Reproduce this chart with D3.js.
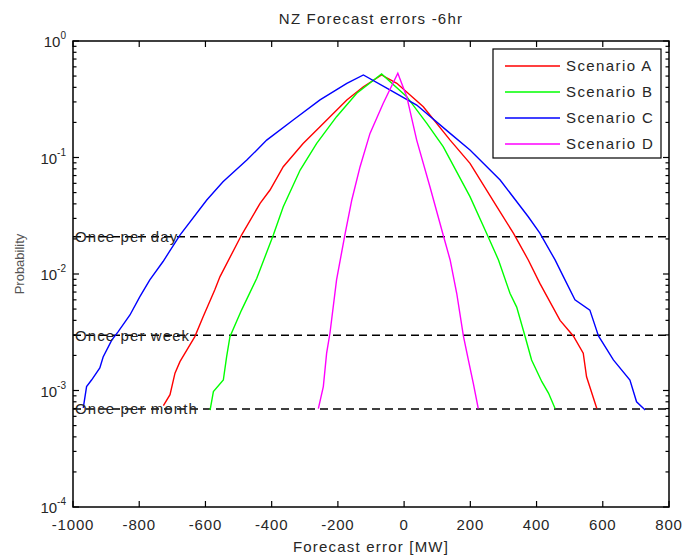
<!DOCTYPE html>
<html>
<head>
<meta charset="utf-8">
<script src="https://cdn.jsdelivr.net/npm/d3@7"></script>
<style>
  body { margin: 0; background: #fff; }
  svg { font-family: "Liberation Sans", Arial, sans-serif; }
</style>
</head>
<body>
<svg id="chart" width="682" height="558"></svg>
<script>
// forecast error [MW], probability
const scenarioA = [[-727,7.4e-4],[-707,9.2e-4],[-692,1.41e-3],[-677,1.77e-3],[-632,2.9e-3],[-607,4.3e-3],
  [-572,7.3e-3],[-556,9.5e-3],[-491,0.0216],[-435,0.0404],[-405,0.0526],[-365,0.0834],[-305,0.132],
  [-254,0.184],[-173,0.312],[-123,0.405],[-68,0.511],[-22,0.433],[58,0.273],[139,0.141],[199,0.089],
  [280,0.0378],[330,0.0224],[375,0.0132],[410,8.3e-3],[471,4.0e-3],[511,2.94e-3],[541,2.09e-3],
  [551,1.31e-3],[582,7.0e-4]];
const scenarioB = [[-586,6.8e-4],[-576,9.8e-4],[-546,1.23e-3],[-536,1.95e-3],[-526,2.9e-3],[-491,4.9e-3],
  [-445,9.2e-3],[-395,0.0216],[-365,0.0378],[-314,0.0781],[-264,0.132],[-204,0.224],[-143,0.356],
  [-68,0.521],[8,0.333],[68,0.197],[118,0.124],[199,0.0461],[249,0.0224],[285,0.0132],[320,6.8e-3],
  [340,5.2e-3],[365,2.94e-3],[385,1.83e-3],[416,1.19e-3],[436,9.5e-4],[456,7.0e-4]];
const scenarioC = [[-969,7.1e-4],[-959,1.08e-3],[-944,1.23e-3],[-919,1.56e-3],[-909,1.94e-3],[-883,2.71e-3],
  [-864,3.19e-3],[-828,4.45e-3],[-798,6.4e-3],[-768,8.9e-3],[-728,0.0128],[-677,0.0216],[-596,0.0432],
  [-547,0.062],[-475,0.095],[-415,0.141],[-335,0.21],[-254,0.312],[-173,0.433],[-123,0.511],[-43,0.38],
  [38,0.282],[139,0.161],[199,0.116],[290,0.0641],[375,0.031],[410,0.0224],[456,0.0132],[481,9.5e-3],
  [516,6.0e-3],[561,4.9e-3],[587,2.94e-3],[632,1.83e-3],[682,1.23e-3],[702,8.0e-4],[728,6.8e-4]];
const scenarioD = [[-259,7.0e-4],[-244,1.08e-3],[-234,2.09e-3],[-224,3.1e-3],[-204,8.9e-3],[-179,0.0216],
  [-158,0.0432],[-133,0.0834],[-103,0.161],[-63,0.292],[-19,0.528],[8,0.333],[38,0.141],[78,0.0561],
  [118,0.0216],[139,0.0132],[159,6.8e-3],[179,2.94e-3],[194,1.83e-3],[209,1.15e-3],[224,7.0e-4]];

const seriesNames = ["Scenario A", "Scenario B", "Scenario C", "Scenario D"];
const seriesColors = ["#ff0000", "#00ff00", "#0000ff", "#ff00ff"];
const seriesData = [scenarioA, scenarioB, scenarioC, scenarioD];

// half-hourly intervals: once per day / week / month
const refNames = ["Once per day", "Once per week", "Once per month"];
const refValues = [1 / 48, 1 / 336, 1 / 1440];

const xTicks = [-1000, -800, -600, -400, -200, 0, 200, 400, 600, 800];
const yExps = [0, -1, -2, -3, -4];

const margin = {top: 41, right: 13, bottom: 51, left: 73},
width = 682 - margin.left - margin.right,
height = 558 - margin.top - margin.bottom;

const textColor = "#262626";

const svg = d3.select("#chart");
const g = svg.append("g").attr("transform", `translate(${margin.left}, ${margin.top})`);

const x = d3.scaleLinear().domain([-1000, 800]).range([0, width]);
const y = d3.scaleLog().domain([1e-4, 1]).range([height, 0]);

// reference lines
refValues.forEach((v, i) => {
    g.append("line")
        .attr("x1", 0).attr("x2", width)
        .attr("y1", y(v)).attr("y2", y(v))
        .attr("stroke", "#000").attr("stroke-width", 1.5)
        .attr("stroke-dasharray", "8,5");
});

// curves
const line = d3.line().x(d => x(d[0])).y(d => y(d[1]));
seriesData.forEach((data, i) => {
    g.append("path")
        .datum(data)
        .attr("d", line)
        .attr("fill", "none")
        .attr("stroke", seriesColors[i])
        .attr("stroke-width", 1.4);
});

// reference labels on top of lines
refValues.forEach((v, i) => {
    g.append("text")
        .attr("x", 2).attr("y", y(v))
        .attr("dy", "0.35em")
        .attr("font-size", 15).attr("letter-spacing", 1.1)
        .attr("fill", textColor)
        .text(refNames[i]);
});

// axes box
g.append("rect")
    .attr("width", width).attr("height", height)
    .attr("fill", "none").attr("stroke", "#000").attr("stroke-width", 1.5);

// x ticks (inward, top and bottom)
const axisG = g.append("g").attr("stroke", "#000").attr("stroke-width", 1.2);
xTicks.forEach(t => {
    axisG.append("line").attr("x1", x(t)).attr("x2", x(t)).attr("y1", height).attr("y2", height - 6);
    axisG.append("line").attr("x1", x(t)).attr("x2", x(t)).attr("y1", 0).attr("y2", 6);
});
g.append("g").selectAll("text")
    .data(xTicks).join("text")
    .attr("x", d => x(d)).attr("y", height + 23)
    .attr("text-anchor", "middle")
    .attr("font-size", 15).attr("letter-spacing", 0.8).attr("fill", textColor)
    .text(d => d);

// y ticks: major and minor on left and right
y.ticks().forEach(t => {
    const isMajor = Math.abs(Math.log10(t) - Math.round(Math.log10(t))) < 1e-9;
    const len = isMajor ? 6 : 3.5;
    axisG.append("line").attr("x1", 0).attr("x2", len).attr("y1", y(t)).attr("y2", y(t));
    axisG.append("line").attr("x1", width).attr("x2", width - len).attr("y1", y(t)).attr("y2", y(t));
});
const yLab = g.append("g").selectAll("text")
    .data(yExps).join("text")
    .attr("x", -7).attr("y", d => y(Math.pow(10, d)) + 6)
    .attr("text-anchor", "end")
    .attr("font-size", 15).attr("fill", textColor);
yLab.append("tspan").text("10");
yLab.append("tspan").attr("dy", -8).attr("font-size", 10).text(d => d);

// title and axis labels
svg.append("text")
    .attr("x", margin.left + width / 2).attr("y", 24)
    .attr("text-anchor", "middle").attr("font-size", 15).attr("letter-spacing", 1.2).attr("fill", textColor)
    .text("NZ Forecast errors -6hr");
svg.append("text")
    .attr("x", margin.left + width / 2).attr("y", 552)
    .attr("text-anchor", "middle").attr("font-size", 15).attr("letter-spacing", 1.2).attr("fill", textColor)
    .text("Forecast error [MW]");
svg.append("text")
    .attr("transform", `translate(24, 264) rotate(-90)`)
    .attr("text-anchor", "middle").attr("font-size", 13).attr("fill", "#555")
    .text("Probability");

// legend
const legend = svg.append("g").attr("transform", "translate(493, 49)");
legend.append("rect")
    .attr("width", 168).attr("height", 109)
    .attr("fill", "#fff").attr("stroke", "#000").attr("stroke-width", 1.2);
seriesNames.forEach((name, i) => {
    const ly = 17 + i * 26;
    legend.append("line")
        .attr("x1", 12).attr("x2", 67).attr("y1", ly).attr("y2", ly)
        .attr("stroke", seriesColors[i]).attr("stroke-width", 1.4);
    legend.append("text")
        .attr("x", 73).attr("y", ly + 5)
        .attr("font-size", 15).attr("letter-spacing", 1.4).attr("fill", textColor)
        .text(name);
});
</script>
</body>
</html>
